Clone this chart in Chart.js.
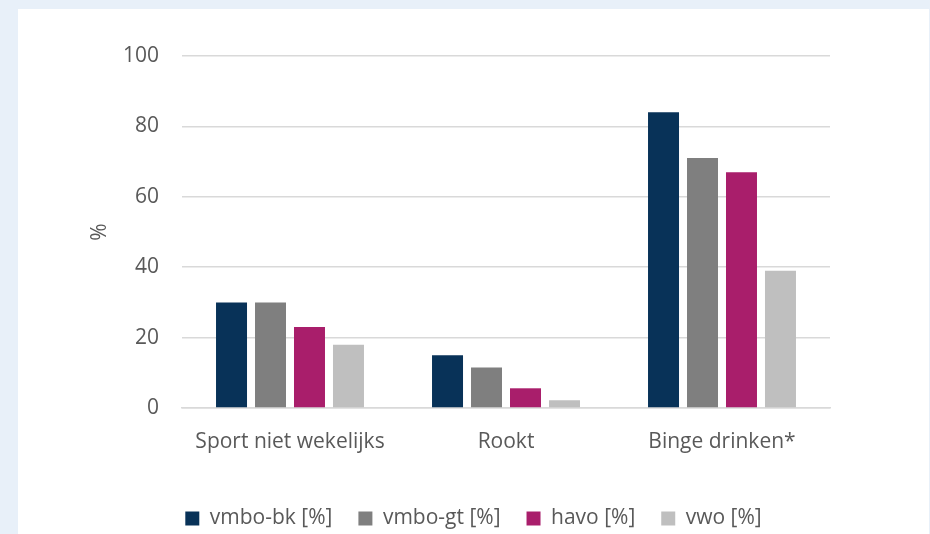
<!DOCTYPE html>
<html>
<head>
<meta charset="utf-8">
<script src="https://cdn.jsdelivr.net/npm/chart.js@4"></script>
<style>
  html, body { margin: 0; padding: 0; background: #e8f0f9; overflow: hidden; width: 930px; height: 534px; }
  #wrap { position: absolute; left: 18px; top: 9px; width: 911px; height: 530px; background: #ffffff; }
  canvas { display: block; }
</style>
</head>
<body>
<div id="wrap"><canvas id="c" width="911" height="530"></canvas></div>
<script>
const categories = ['Sport niet wekelijks', 'Rookt', 'Binge drinken*'];
const seriesNames = ['vmbo-bk [%]', 'vmbo-gt [%]', 'havo [%]', 'vwo [%]'];
const vmboBk = [30, 15, 84];
const vmboGt = [30, 11.5, 71];
const havo = [23, 5.6, 67];
const vwo = [18, 2.2, 39];
const yTicks = [0, 20, 40, 60, 80, 100];
const yTitle = '%';

const colors = ['#083258', '#7f7f7f', '#a91e6b', '#bfbfbf'];
const seriesValues = [vmboBk, vmboGt, havo, vwo];
const textColor = '#595959';
const font = { family: 'Open Sans', size: 21 };

new Chart(document.getElementById('c'), {
  type: 'bar',
  data: {
    labels: categories,
    datasets: seriesValues.map((v, i) => ({
      label: seriesNames[i],
      data: v,
      backgroundColor: colors[i],
      borderWidth: 0,
      categoryPercentage: 0.722,
      barPercentage: 0.795
    }))
  },
  options: {
    responsive: false,
    animation: false,
    layout: { padding: { top: 47, left: 0, right: 0, bottom: 0 } },
    plugins: {
      tooltip: { enabled: false },
      legend: {
        position: 'bottom',
        labels: {
          font: font,
          color: textColor,
          boxWidth: 14,
          boxHeight: 14,
          padding: 26
        }
      }
    },
    scales: {
      x: {
        grid: { display: false, drawTicks: false },
        border: { display: true, color: '#d9d9d9', width: 1.5 },
        ticks: { font: font, color: textColor, padding: 21 },
        afterFit: s => { s.height = 74; }
      },
      y: {
        min: 0, max: 100,
        afterBuildTicks: s => { s.ticks = yTicks.map(v => ({ value: v })); },
        grid: { color: '#d9d9d9', lineWidth: 1.5, drawTicks: false },
        border: { display: false },
        ticks: { font: font, color: textColor, padding: 23 },
        title: { display: true, text: yTitle, font: font, color: textColor, padding: { top: 69, bottom: 0 } },
        afterFit: s => { s.width = 164; }
      },
      y2: {
        position: 'right',
        display: true,
        grid: { display: false, drawTicks: false },
        border: { display: false },
        ticks: { display: false },
        afterFit: s => { s.width = 99; }
      }
    }
  }
});
</script>
</body>
</html>
